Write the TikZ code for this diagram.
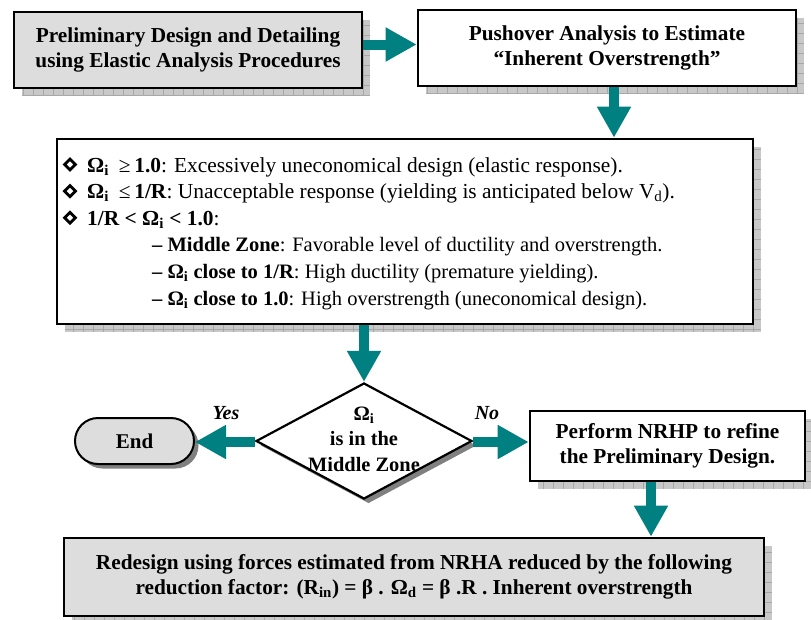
\documentclass[tikz,border=0pt]{standalone}
\usepackage{fontspec}
\setmainfont{Liberation Serif}
\usetikzlibrary{shapes.geometric,shadows,arrows.meta}
\definecolor{tealc}{RGB}{0,128,128}
\definecolor{boxgray}{RGB}{221,221,221}
\definecolor{shgray}{RGB}{200,200,200}
\definecolor{shline}{RGB}{168,168,168}
\definecolor{solidsh}{RGB}{128,128,128}
\begin{document}
\begin{tikzpicture}[x=1pt,y=-1pt,
  gridshadow/.style={general shadow={shadow xshift=8pt, shadow yshift=-8pt, fill=shgray, draw=none,
      path picture={\draw[shline, line width=0.6pt] (path picture bounding box.south west) grid[step=10pt] (path picture bounding box.north east);}}},
  solidshadow/.style={general shadow={shadow xshift=4.5pt, shadow yshift=-4.5pt, fill=solidsh, draw=none}},
  pbox/.style={draw=black, line width=2.6pt, align=center, inner sep=0pt,
      font=\bfseries\fontsize{21.3}{25}\selectfont, gridshadow},
  decision/.style={diamond, draw=black, line width=2.2pt, fill=white, inner sep=0pt,
      minimum width=216pt, minimum height=116pt, solidshadow},
  terminal/.style={rectangle, rounded corners=23pt, draw=black, line width=2pt, fill=boxgray,
      minimum width=119pt, minimum height=46pt, inner sep=0pt, solidshadow,
      font=\bfseries\fontsize{21}{25}\selectfont},
  dtext/.style={align=center, inner sep=0pt, font=\bfseries\fontsize{20.4}{25.5}\selectfont},
  bodytext/.style={anchor=base west, inner sep=0pt, font=\fontsize{21.4}{24}\selectfont},
  subtext/.style={anchor=base west, inner sep=0pt, font=\fontsize{20.5}{24}\selectfont},
  bulletd/.style={diamond, draw=black, line width=2.8pt, inner sep=0pt, minimum width=12pt, minimum height=12pt},
  lbl/.style={inner sep=0pt, font=\bfseries\itshape\fontsize{20}{24}\selectfont},
  bigarrow/.style={draw=tealc, line width=10pt, -{Triangle[length=31pt, width=32pt]}}
]
\useasboundingbox (0,0) rectangle (811,619);

% boxes
\node[pbox, fill=boxgray, minimum width=348pt, minimum height=76pt] (b1) at (188,50)
  {Preliminary Design and Detailing\\using Elastic Analysis Procedures};
\node[pbox, fill=white, minimum width=378pt, minimum height=76pt] (b2) at (607,48)
  {Pushover Analysis to Estimate\\``Inherent Overstrength''};
\node[pbox, fill=white, minimum width=696pt, minimum height=185pt] (big) at (405,231.5) {};

% contents of the big box
\node[bulletd] (d1) at (70,164.5) {};
\node[bulletd] (d2) at (70,191.1) {};
\node[bulletd] (d3) at (70,217.7) {};
\node[bodytext] (t1) at (87,172)
  {\textbf{Ω\textsubscript{i}}\hspace{10pt}≥\,\textbf{1.0}: Excessively uneconomical design (elastic response).};
\node[bodytext] (t2) at (87,198.6)
  {\textbf{Ω\textsubscript{i}}\hspace{10pt}≤\,\textbf{1/R}: Unacceptable response (yielding is anticipated below V\textsubscript{d}).};
\node[bodytext] (t3) at (87,225.2)
  {\textbf{1/R < Ω\textsubscript{i} < 1.0}:};
\node[subtext] (t4) at (152,251.8)
  {\textbf{– Middle Zone}: Favorable level of ductility and overstrength.};
\node[subtext] (t5) at (152,278.4)
  {\textbf{– Ω\textsubscript{i} close to 1/R}: High ductility (premature yielding).};
\node[subtext] (t6) at (152,305)
  {\textbf{– Ω\textsubscript{i} close to 1.0}: High overstrength (uneconomical design).};

% decision and terminal
\node[decision] (dia) at (364,441) {};
\node[dtext] (diat) at (364,439) {Ω\textsubscript{i}\\is in the\\Middle Zone};
\node[terminal] (endn) at (134.5,441) {End};
\node[pbox, fill=white, minimum width=275pt, minimum height=70pt] (nrhp) at (667.5,446)
  {Perform NRHP to refine\\the Preliminary Design.};
\node[pbox, fill=boxgray, minimum width=700pt, minimum height=78pt] (bot) at (414,577)
  {Redesign using forces estimated from NRHA reduced by the following\\
   reduction factor: (R\textsubscript{in}) = β . Ω\textsubscript{d} = β .R . Inherent overstrength};

% labels
\node[lbl] (yes) at (226,413) {Yes};
\node[lbl] (no) at (487,413) {No};

% connectors
\draw[bigarrow] ([yshift=5.5pt]b1.east) -- ([yshift=3.5pt]b2.west);
\draw[bigarrow] ([xshift=7pt]b2.south) -- ([xshift=7pt]b2.south |- big.north);
\draw[bigarrow] (big.south -| dia.north) -- (dia.north);
\draw[bigarrow] ([yshift=-1pt]dia.west) -- ([yshift=-1pt]endn.east);
\draw[bigarrow] ([yshift=-1pt]dia.east) -- ([yshift=-1pt]dia.east -| nrhp.west);
\draw[bigarrow] ([xshift=-16.5pt]nrhp.south) -- ([xshift=-16.5pt]nrhp.south |- bot.north);
\end{tikzpicture}
\end{document}
